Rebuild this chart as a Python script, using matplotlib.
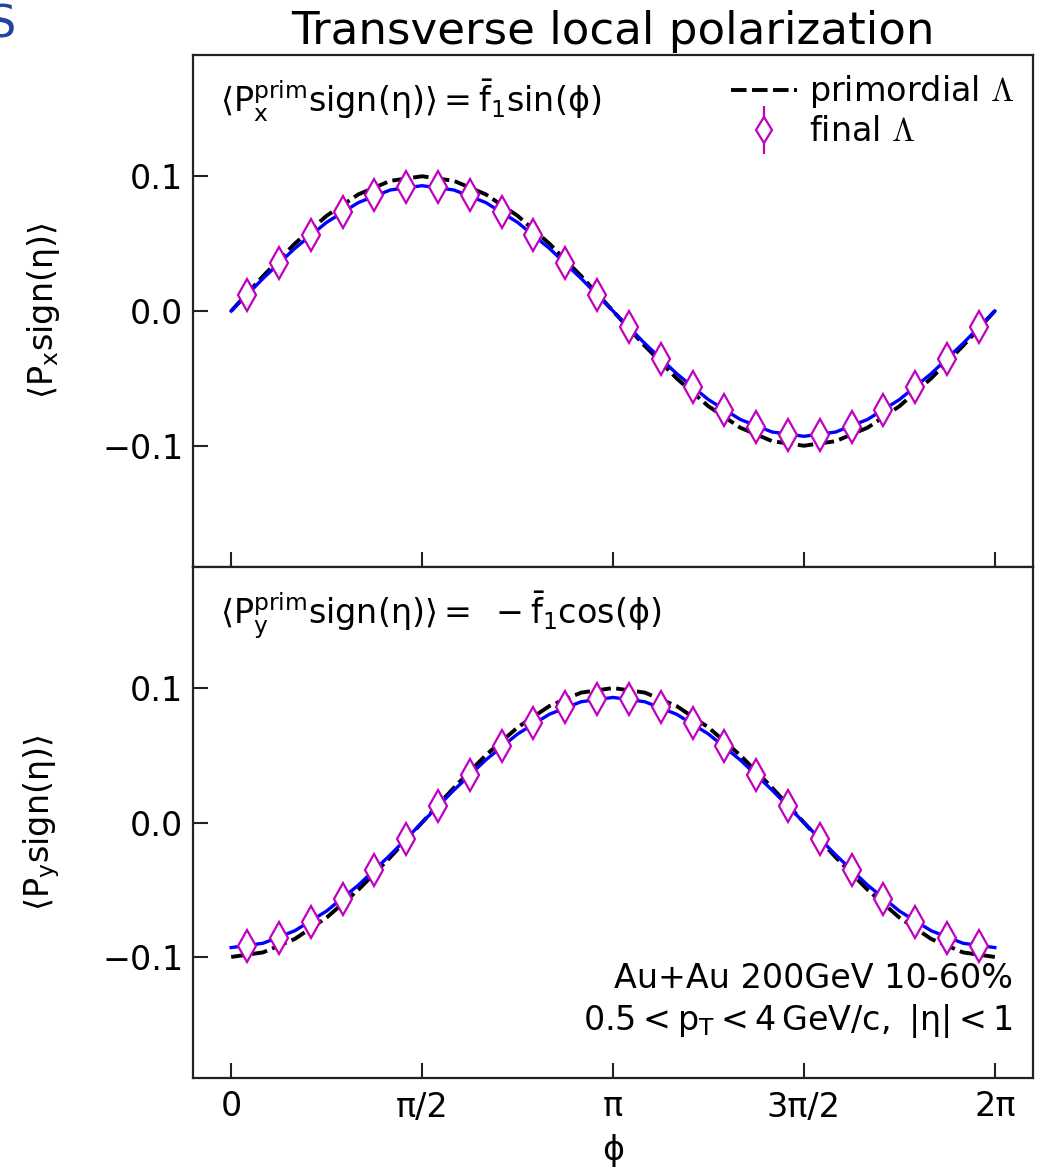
import numpy as np
import matplotlib
matplotlib.use("Agg")
import matplotlib.pyplot as plt
from matplotlib.legend_handler import HandlerErrorbar

plt.rcParams['font.family'] = ['DejaVu Sans']
plt.rcParams['mathtext.fontset'] = 'dejavusans'
plt.rcParams['mathtext.default'] = 'regular'

# ---------------- data ----------------
# curve nodes: phi = k*pi/12, k = 0..24
curve_phi_units = list(range(25))  # in units of pi/12
prim_x = [0.0, 0.0259, 0.05, 0.0707, 0.0866, 0.0966, 0.1, 0.0966, 0.0866, 0.0707, 0.05, 0.0259,
          0.0, -0.0259, -0.05, -0.0707, -0.0866, -0.0966, -0.1, -0.0966, -0.0866, -0.0707, -0.05, -0.0259, 0.0]
final_x = [0.0, 0.0241, 0.0465, 0.0658, 0.0805, 0.0898, 0.093, 0.0898, 0.0805, 0.0658, 0.0465, 0.0241,
           0.0, -0.0241, -0.0465, -0.0658, -0.0805, -0.0898, -0.093, -0.0898, -0.0805, -0.0658, -0.0465, -0.0241, 0.0]
prim_y = [-0.1, -0.0966, -0.0866, -0.0707, -0.05, -0.0259, 0.0, 0.0259, 0.05, 0.0707, 0.0866, 0.0966,
          0.1, 0.0966, 0.0866, 0.0707, 0.05, 0.0259, 0.0, -0.0259, -0.05, -0.0707, -0.0866, -0.0966, -0.1]
final_y = [-0.093, -0.0898, -0.0805, -0.0658, -0.0465, -0.0241, 0.0, 0.0241, 0.0465, 0.0658, 0.0805, 0.0898,
           0.093, 0.0898, 0.0805, 0.0658, 0.0465, 0.0241, 0.0, -0.0241, -0.0465, -0.0658, -0.0805, -0.0898, -0.093]

# markers: bin centres phi = (k+0.5)*pi/12, k = 0..23
marker_phi_units = [k + 0.5 for k in range(24)]  # in units of pi/12
pts_x = [0.012, 0.0356, 0.0566, 0.0738, 0.0859, 0.0922, 0.0922, 0.0859, 0.0738, 0.0566, 0.0356, 0.012,
         -0.012, -0.0356, -0.0566, -0.0738, -0.0859, -0.0922, -0.0922, -0.0859, -0.0738, -0.0566, -0.0356, -0.012]
pts_y = [-0.0922, -0.0859, -0.0738, -0.0566, -0.0356, -0.012, 0.012, 0.0356, 0.0566, 0.0738, 0.0859, 0.0922,
         0.0922, 0.0859, 0.0738, 0.0566, 0.0356, 0.012, -0.012, -0.0356, -0.0566, -0.0738, -0.0859, -0.0922]
pts_err = [0.0] * 24  # statistical errors too small to be visible

xtick_pos_units = [0, 6, 12, 18, 24]  # in units of pi/12
xtick_labels = ['0', 'π/2', 'π', '3π/2', '2π']
yticks = [-0.1, 0.0, 0.1]
ytick_labels = ['−0.1', '0.0', '0.1']

title = 'Transverse local polarization'
ann_top = r'$\langle P_x^{prim} sign(\eta)\rangle = \bar{f}_1 sin(\phi)$'
ann_bot = r'$\langle P_y^{prim} sign(\eta)\rangle =\ -\bar{f}_1 cos(\phi)$'
ylab_top = r'$\langle P_x sign(\eta)\rangle$'
ylab_bot = r'$\langle P_y sign(\eta)\rangle$'
info = 'Au+Au 200GeV 10-60%\n' + r'$0.5 < p_T < 4\,GeV/c,\ |\eta| < 1$'
lab_prim = r'primordial $\mathrm{\Lambda}$'
lab_final = r'final $\mathrm{\Lambda}$'

# ---------------- plot ----------------
unit = np.pi / 12
cphi = np.array(curve_phi_units) * unit
mphi = np.array(marker_phi_units) * unit

fig = plt.figure(figsize=(10.41, 11.68), dpi=100)
L, R = 193 / 1041, 1033 / 1041
H = 1168
ax1 = fig.add_axes([L, 1 - 567 / H, R - L, (567 - 55) / H])
ax2 = fig.add_axes([L, 1 - 1078 / H, R - L, (1078 - 567) / H], sharex=ax1)

mag = '#c000c0'
spine_c = '#222222'
for ax, prim, fin, pts, ann, ylab in [(ax1, prim_x, final_x, pts_x, ann_top, ylab_top),
                                      (ax2, prim_y, final_y, pts_y, ann_bot, ylab_bot)]:
    ax.plot(cphi, prim, color='k', ls='--', lw=2.8, dashes=(4.0, 1.4), label=lab_prim, zorder=2)
    ax.plot(cphi, fin, color='#0000ff', ls='-', lw=2.4, zorder=3)
    ax.errorbar(mphi, pts, yerr=pts_err, ls='none', marker='d', ms=16, mfc='white', mec=mag, mew=1.6,
                ecolor=mag, elinewidth=1.6, label=lab_final, zorder=4)
    ax.set_ylim(-0.19, 0.19)
    ax.set_yticks(yticks)
    ax.set_yticklabels(ytick_labels)
    ax.set_xticks(np.array(xtick_pos_units) * unit)
    ax.tick_params(axis='both', direction='in', length=11, width=1.5, labelsize=24,
                   color=spine_c, top=False, right=False)
    ax.tick_params(axis='x', pad=9)
    ax.tick_params(axis='y', pad=7)
    for s in ax.spines.values():
        s.set_linewidth(1.6)
        s.set_color(spine_c)
    ax.text(0.032, 0.955, ann, transform=ax.transAxes, fontsize=24, ha='left', va='top')
    ax.set_ylabel(ylab, fontsize=24)
    ax.yaxis.set_label_coords(-0.156, 0.5)

ax1.set_xlim(-0.1 * np.pi, 2.1 * np.pi)
ax2.set_xticklabels(xtick_labels)
ax1.tick_params(axis='x', labelbottom=False)
ax2.set_xlabel(r'$\phi$', fontsize=24, labelpad=6)

ax1.set_title(title, fontsize=32.5, pad=8)

leg = ax1.legend(loc='upper right', frameon=False, fontsize=24, handlelength=2.0,
                 handletextpad=0.35, labelspacing=0.15, borderaxespad=0.15, borderpad=0.4,
                 markerscale=0.85,
                 handler_map={matplotlib.container.ErrorbarContainer: HandlerErrorbar(yerr_size=0.72)})
for t in leg.get_texts():
    t.set_math_fontfamily('cm')

ax2.text(0.976, 0.075, info, transform=ax2.transAxes, fontsize=24, ha='right', va='bottom',
         multialignment='right', linespacing=1.25)

fig.text(15 / 1041, 1 - 38 / H, 'S', fontsize=32, color='#2343a3', ha='right', va='baseline')

fig.savefig('out.png', dpi=100)
